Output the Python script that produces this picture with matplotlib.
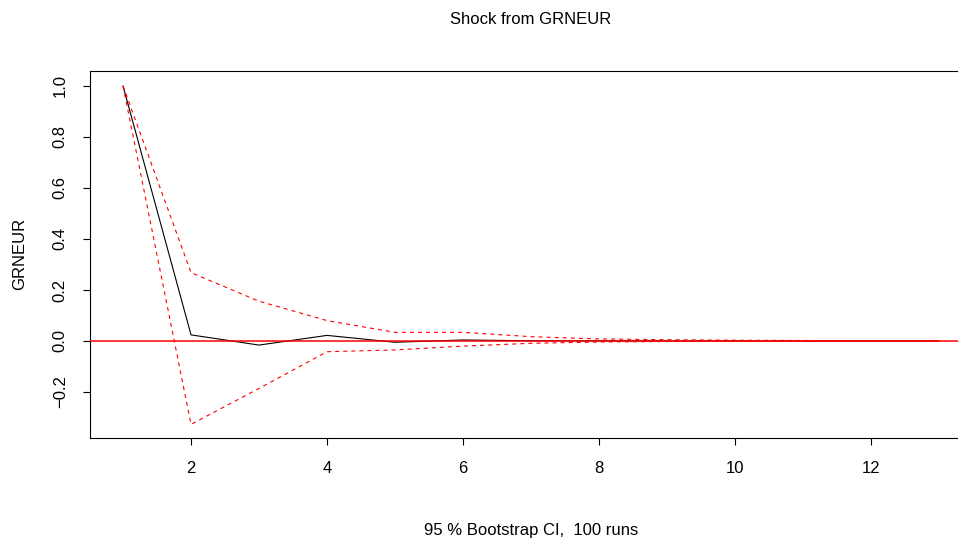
import matplotlib
matplotlib.use("Agg")
import matplotlib.pyplot as plt

plt.rcParams['font.family'] = ['Liberation Sans', 'DejaVu Sans']
plt.rcParams['lines.scale_dashes'] = False

horizon = list(range(1, 14))
irf = [1.0, 0.024, -0.016, 0.022, -0.005, 0.004, 0.001, 0.0005, 0.0002, 0.0001, 0.0, 0.0, 0.0]
upper = [1.0, 0.268, 0.156, 0.08, 0.034, 0.034, 0.017, 0.008, 0.005, 0.003, 0.002, 0.001, 0.001]
lower = [1.0, -0.327, -0.186, -0.042, -0.035, -0.02, -0.009, -0.004, -0.002, -0.001, -0.001, 0.0, 0.0]
xticks = [2, 4, 6, 8, 10, 12]
yticks = [-0.2, 0.0, 0.2, 0.4, 0.6, 0.8, 1.0]

W, H = 958, 543
FS = 12
fig = plt.figure(figsize=(W / 100, H / 100), dpi=100)
left, right, top, bottom = 90.4, 971.6, 71, 438
ax = fig.add_axes([left / W, 1 - bottom / H, (right - left) / W, (bottom - top) / H])

ax.plot(horizon, irf, color='black', lw=0.8, zorder=2)
ax.plot(horizon, upper, color='red', lw=0.8, linestyle=(0, (2.9, 2.9)), zorder=2)
ax.plot(horizon, lower, color='red', lw=0.8, linestyle=(0, (2.9, 2.9)), zorder=2)
ax.axhline(0, color='#ff0000', lw=1.1, zorder=3)

ax.set_xlim(0.52, 13.48)
ax.set_ylim(-0.3804, 1.0588)
ax.set_xticks(xticks)
ax.set_xticklabels([str(t) for t in xticks])
ax.set_yticks(yticks)
ax.set_yticklabels([f"{t:.1f}".replace('-', '\u2212') for t in yticks], rotation=90, va='center')
ax.tick_params(direction='out', length=5.3, width=0.8, labelsize=FS, pad=11)
ax.tick_params(axis='x', pad=11)
for s in ax.spines.values():
    s.set_linewidth(0.8)

fig.text(20 / W, 1 - 254 / H, 'GRNEUR', ha='center', va='center', rotation=90, fontsize=FS)
fig.text(531 / W, 1 - 20 / H, 'Shock from GRNEUR', ha='center', va='center', fontsize=FS)
fig.text(531 / W, 1 - 530 / H, '95 % Bootstrap CI,  100 runs', ha='center', va='center', fontsize=FS)

fig.savefig('out.png', dpi=100)
